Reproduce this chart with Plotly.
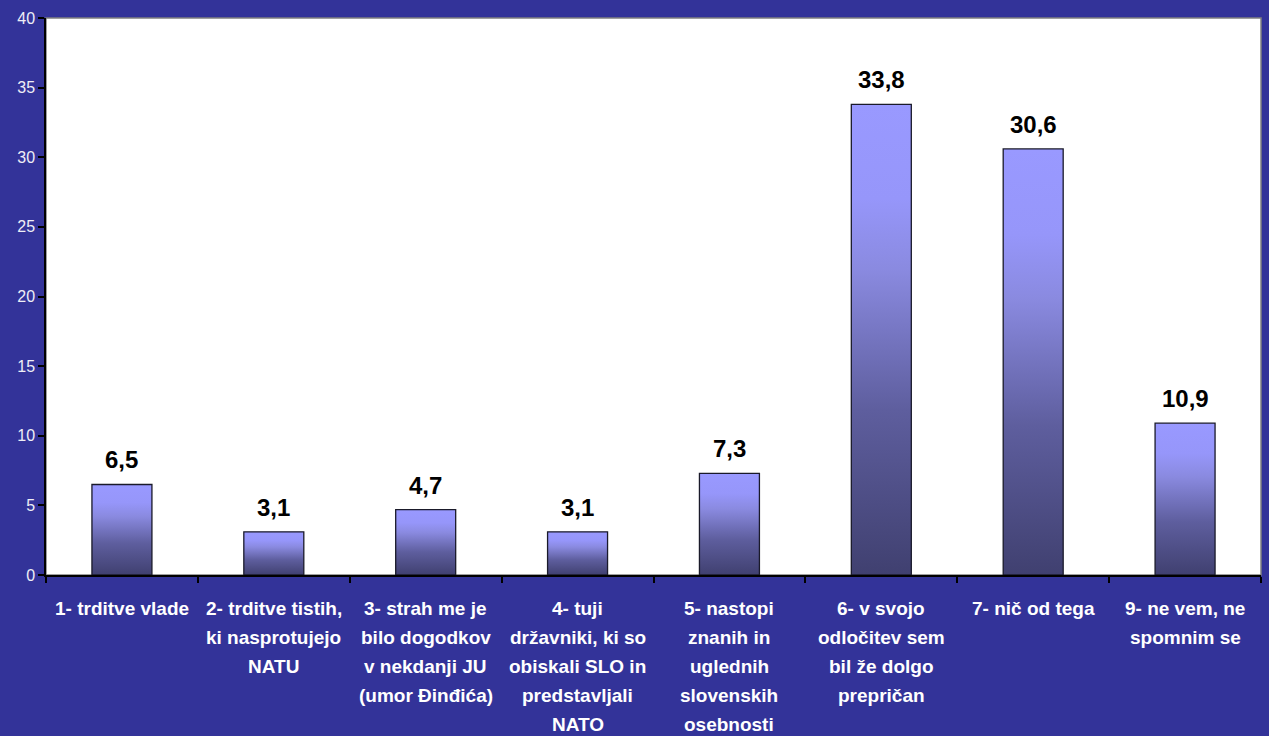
import plotly.graph_objects as go

categories = [
    "1- trditve vlade",
    "2- trditve tistih,<br>ki nasprotujejo<br>NATU",
    "3- strah me je<br>bilo dogodkov<br>v nekdanji JU<br>(umor Đinđića)",
    "4- tuji<br>državniki, ki so<br>obiskali SLO in<br>predstavljali<br>NATO",
    "5- nastopi<br>znanih in<br>uglednih<br>slovenskih<br>osebnosti",
    "6- v svojo<br>odločitev sem<br>bil že dolgo<br>prepričan",
    "7- nič od tega",
    "9- ne vem, ne<br>spomnim se",
]
values = [6.5, 3.1, 4.7, 3.1, 7.3, 33.8, 30.6, 10.9]
y_ticks = [0, 5, 10, 15, 20, 25, 30, 35, 40]

BG = "#333399"
BAR_W = 0.395
FONT = "Liberation Sans"

fig = go.Figure()

for i, v in enumerate(values):
    x0, x1 = i - BAR_W / 2, i + BAR_W / 2
    fig.add_trace(go.Scatter(
        x=[x0, x0, x1, x1, x0],
        y=[0, v, v, 0, 0],
        mode="lines",
        fill="toself",
        fillgradient=dict(
            type="vertical",
            colorscale=[[0, "#404070"], [0.35, "#5e5e9e"], [0.65, "#8a8ae0"],
                        [0.8, "#9696fa"], [1, "#9999ff"]],
        ),
        line=dict(color="#1a1a2a", width=1.3),
        hoverinfo="skip",
        showlegend=False,
    ))

for i, v in enumerate(values):
    fig.add_annotation(
        x=i, y=v, xref="x", yref="y",
        text=f"{v:.1f}".replace(".", ","),
        showarrow=False, yanchor="bottom", yshift=9,
        font=dict(family=FONT, size=24, color="black", weight="bold"),
    )

for i, lab in enumerate(categories):
    for k, line in enumerate(lab.split("<br>")):
        fig.add_annotation(
            x=i, y=0, xref="x", yref="paper",
            text=line, showarrow=False,
            yanchor="middle", yshift=-33 - 29 * k,
            font=dict(family=FONT, size=19, color="white", weight="bold"),
        )

# plot-area border (gray top/right)
fig.add_shape(type="rect", xref="paper", yref="paper", x0=0, y0=0, x1=1, y1=1,
              line=dict(color="#808080", width=1.5), layer="below")

fig.update_layout(
    width=1269, height=736,
    paper_bgcolor=BG, plot_bgcolor="white",
    margin=dict(l=46, r=8, t=18, b=161),
    showlegend=False,
    xaxis=dict(
        range=[-0.5, len(values) - 0.5],
        tickvals=list(range(len(values))),
        ticktext=[""] * len(values),
        ticks="",
        showgrid=False, zeroline=False,
        showline=True, linecolor="black", linewidth=1.5,
        minor=dict(tickmode="array",
                   tickvals=[i - 0.5 for i in range(len(values) + 1)],
                   ticks="outside", ticklen=6, tickcolor="black", tickwidth=1.5,
                   showgrid=False),
        fixedrange=True,
    ),
    yaxis=dict(
        range=[0, 40],
        tickvals=y_ticks,
        ticks="outside", ticklen=6, tickcolor="black", tickwidth=1.5,
        showgrid=False, zeroline=False,
        showline=True, linecolor="black", linewidth=1.5,
        tickfont=dict(family=FONT, size=16, color="#eeeef6"),
        fixedrange=True,
    ),
)

fig.write_html(
    "out.html",
    config={"displayModeBar": False},
    post_script="document.body.style.margin='0';document.body.style.overflow='hidden';",
)
